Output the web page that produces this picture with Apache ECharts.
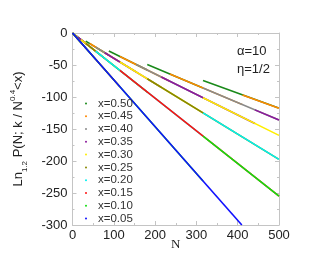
<!DOCTYPE html>
<html>
<head>
<meta charset="utf-8">
<script src="https://cdn.jsdelivr.net/npm/echarts@6/dist/echarts.min.js"></script>
<style>html,body{margin:0;padding:0;background:#fff}#c{width:311px;height:269px}</style>
</head>
<body>
<div id="c"></div>
<script>
// Legend labels (x thresholds)
const seriesNames = ['x=0.50','x=0.45','x=0.40','x=0.35','x=0.30','x=0.25','x=0.20','x=0.15','x=0.10','x=0.05'];
const seriesColors = ['#1a8a1a','#ff8800','#8a8a8a','#8b1a9b','#ffee00','#888800','#00f0f0','#ff1010','#10e010','#1010ff'];
const G = '-'; // gap marker between segments
// [N, Ln P] points; segments separated by gaps
const s050 = [[0,0],[5.7,-4.2],[5.7,G],[5.7,-2.9],[32,-16.3],[32,G],[32,-12.6],[88,-34.8],[88,G],[88,-28.2],[181,-57.9],[181,G],[181,-49.2],[316,-86.0],[316,G],[316,-74.3],[499,-117.3],[499,G],[498.5,-104.2],[500,-104.5]];
const s045 = [[0,0],[7.4,-5.4],[7.4,G],[7.4,-3.8],[41.6,-21.2],[41.6,G],[41.6,-16.4],[114.8,-45.3],[114.8,G],[114.8,-36.7],[235.6,-75.4],[235.6,G],[235.6,-64.1],[411.5,-111.9],[411.5,G],[411.5,-96.7],[500,-117.5]];
const s040 = [[0,0],[9.9,-7.2],[9.9,G],[9.9,-5.0],[55.9,-28.5],[55.9,G],[55.9,-22.1],[154,-60.8],[154,G],[154,-49.3],[316,-101.1],[316,G],[316,-86.0],[500,-136.0]];
const s035 = [[0,0],[13.8,-10.1],[13.8,G],[13.8,-7.0],[78,-39.8],[78,G],[78,-30.8],[215,-84.9],[215,G],[215,-68.8],[441.6,-141.3],[441.6,G],[441.6,-120.1],[500,-136.0]];
const s030 = [[0,0],[20.3,-14.9],[20.3,G],[20.3,-10.4],[114.8,-58.5],[114.8,G],[114.8,-45.3],[316,-124.8],[316,G],[316,-101.1],[500,-160.0]];
const s025 = [[0,0],[32,-23.4],[32,G],[32,-16.3],[181,-92.3],[181,G],[181,-71.5],[498.8,-197.0],[498.8,G],[498.8,-159.6],[500,-160.0]];
const s020 = [[0,0],[55.9,-40.9],[55.9,G],[55.9,-28.5],[316,-161.2],[316,G],[316,-124.8],[500,-197.5]];
const s015 = [[0,0],[114.8,-84.0],[114.8,G],[114.8,-58.5],[500,-255.0]];
const s010 = [[0,0],[316,-231.3],[316,G],[316,-161.2],[500,-255.0]];
const s005 = [[0,0],[410,-300]];
const seriesData = [s050,s045,s040,s035,s030,s025,s020,s015,s010,s005];

const xTicks = {min:0, max:500, interval:100};
const yTicks = {min:-300, max:0, interval:50};

const FONT = '"Liberation Sans", Arial, sans-serif';
const frame = '#c4c4c4';
const chart = echarts.init(document.getElementById('c'), null, {renderer:'canvas'});

const baseX = {type:'value', min:xTicks.min, max:xTicks.max, interval:xTicks.interval,
  axisLine:{show:true, onZero:false, lineStyle:{color:frame, width:1}},
  axisTick:{show:true, inside:true, length:4, lineStyle:{color:frame}},
  minorTick:{show:true, splitNumber:2, length:2, lineStyle:{color:frame}},
  splitLine:{show:false}};
const baseY = {type:'value', min:yTicks.min, max:yTicks.max, interval:yTicks.interval,
  axisLine:{show:true, onZero:false, lineStyle:{color:frame, width:1}},
  axisTick:{show:true, inside:true, length:4, lineStyle:{color:frame}},
  minorTick:{show:true, splitNumber:2, length:2, lineStyle:{color:frame}},
  splitLine:{show:false}};

chart.setOption({
  animation:false,
  backgroundColor:'#fff',
  grid:{left:72.5, right:32, top:33, bottom:44, containLabel:false},
  xAxis:[
    Object.assign({}, baseX, {position:'bottom',
      axisLabel:{show:true, fontSize:13, color:'#222', fontFamily:FONT, margin:4},
      name:'N', nameLocation:'middle', nameGap:13, nameMoveOverlap:false,
      nameTextStyle:{fontFamily:'"Liberation Serif", "Times New Roman", serif', fontSize:13, color:'#222'}}),
    Object.assign({}, baseX, {position:'top', axisLabel:{show:false}})
  ],
  yAxis:[
    Object.assign({}, baseY, {position:'left',
      axisLabel:{show:true, fontSize:13, color:'#222', fontFamily:FONT, margin:5},
      name:'{a|Ln}{s|1.2}{a| P(N; k / N}{p|0.4}{a|<x)}', nameLocation:'middle', nameGap:44, nameRotate:90, nameMoveOverlap:false,
      nameTextStyle:{fontFamily:FONT, color:'#222', fontSize:13,
        rich:{
          a:{fontSize:13, fontFamily:FONT, color:'#222', lineHeight:20, verticalAlign:'middle'},
          s:{fontSize:8, fontFamily:FONT, color:'#222', lineHeight:8, verticalAlign:'bottom'},
          p:{fontSize:8, fontFamily:FONT, color:'#222', lineHeight:8, verticalAlign:'top'}
        }}}),
    Object.assign({}, baseY, {position:'right', axisLabel:{show:false}})
  ],
  legend:{
    orient:'vertical', left:80, top:92, itemGap:0,
    itemWidth:2, itemHeight:2, icon:'circle',
    data:seriesNames,
    textStyle:{fontSize:11.5, fontFamily:FONT, color:'#333', lineHeight:12.8, padding:[0,0,0,6]}
  },
  graphic:[
    {type:'text', left:237, top:45, style:{text:'α=10', font:'13px "Liberation Sans", Arial, sans-serif', fill:'#222'}},
    {type:'text', left:237, top:63, style:{text:'η=1/2', font:'13px "Liberation Sans", Arial, sans-serif', fill:'#222'}}
  ],
  series: seriesNames.map((nm,i)=>({
    name:nm, type:'line', xAxisIndex:0, yAxisIndex:0,
    data:seriesData[i], showSymbol:false, symbol:'none', connectNulls:false, clip:true,
    color:seriesColors[i],
    lineStyle:{width:1.6, color:seriesColors[i]},
    emphasis:{disabled:true}
  }))
});
</script>
</body>
</html>
